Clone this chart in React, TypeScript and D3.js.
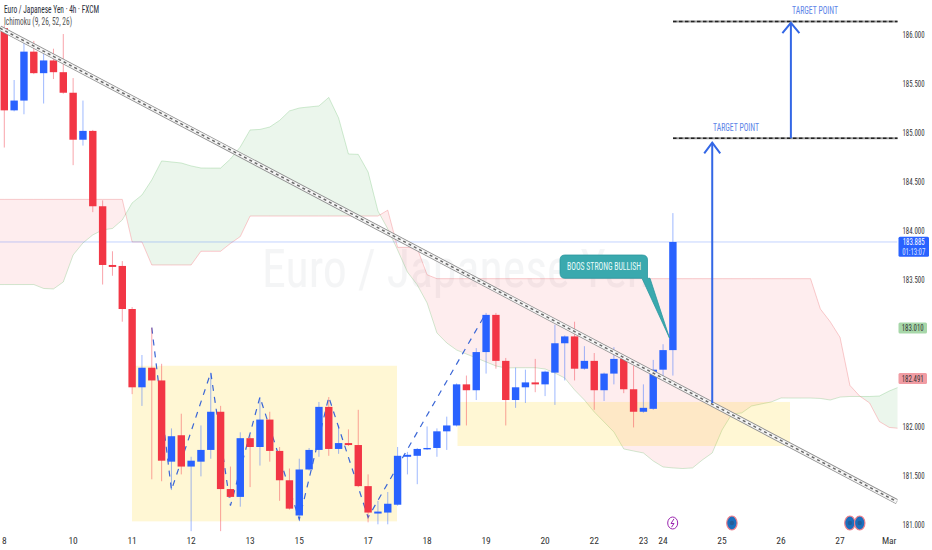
import React from "react";
import * as d3 from "d3";

const opens = [186.07,185.23,185.33,185.83,185.61,185.74,185.62,185.41,184.93,185.02,
184.25,183.65,183.64,183.20,182.40,182.60,182.47,181.64,181.91,181.59,
181.64,181.76,182.15,181.36,181.28,181.88,181.79,182.07,181.75,181.45,
181.09,181.56,181.76,182.20,181.77,181.83,181.81,181.39,181.11,181.12,
181.20,181.69,181.70,181.77,181.78,181.95,182.01,182.43,182.37,182.76,
183.14,182.67,182.27,182.40,182.45,182.43,182.55,182.85,182.92,182.59,
182.67,182.37,182.54,182.69,182.38,182.15,182.18,182.58,182.78];
const highs = [186.10,185.54,185.92,185.94,185.83,185.86,186.01,185.56,185.33,185.03,
184.31,183.79,183.69,183.22,182.73,183.01,182.64,181.98,182.13,181.69,
182.01,182.55,182.21,181.59,181.94,181.91,182.30,182.15,181.79,181.57,
181.67,181.78,182.25,182.30,182.01,181.97,182.17,181.51,181.24,181.33,
181.79,181.74,181.78,182.00,181.98,182.10,182.44,182.52,182.80,183.16,
183.16,182.70,182.60,182.58,182.69,182.57,183.04,182.93,183.07,182.82,
182.75,182.55,182.81,182.73,182.62,182.43,182.68,182.84,184.18];
const lows = [184.85,185.22,185.19,185.60,185.30,185.55,185.40,184.67,184.87,184.19,
183.45,183.54,183.07,182.33,182.21,181.46,181.44,181.35,181.51,180.93,
181.49,181.67,180.93,181.27,181.18,181.38,181.60,181.64,181.24,181.15,
181.04,181.55,181.69,181.70,181.72,181.80,181.38,181.02,181.00,181.00,
181.19,181.51,181.41,181.76,181.69,181.76,182.00,182.01,182.27,182.54,
182.59,182.01,182.19,182.24,182.35,182.31,182.22,182.47,182.47,182.58,
182.17,182.26,182.43,182.34,181.99,182.14,182.17,182.49,182.52];
const closes = [185.23,185.33,185.83,185.61,185.74,185.62,185.41,184.93,185.02,184.25,
183.65,183.63,183.20,182.40,182.60,182.47,181.65,181.90,181.59,181.65,
181.76,182.15,181.36,181.28,181.88,181.79,182.07,181.75,181.45,181.16,
181.56,181.76,182.20,181.77,181.83,181.81,181.39,181.12,181.13,181.21,
181.70,181.71,181.77,181.78,181.95,182.01,182.43,182.37,182.76,183.14,
182.67,182.27,182.40,182.45,182.43,182.56,182.85,182.92,182.59,182.67,
182.37,182.54,182.69,182.38,182.15,182.19,182.58,182.78,183.885];

// Ichimoku spans: first value belongs to bar -1, last to bar 91
const spanA = [183.45,183.45,183.45,183.45,183.45,183.41,183.405,183.476,183.752,183.875,
183.957,184.008,184.023,184.11,184.284,184.365,184.519,184.713,184.703,184.692,
184.662,184.641,184.64,184.64,184.733,184.856,185.03,185.035,185.06,185.127,
185.224,185.254,185.265,185.275,185.362,185.152,184.784,184.78,184.6,184.202,
184.018,183.803,183.578,183.446,183.262,182.955,182.853,182.781,182.74,182.7,
182.659,182.618,182.597,182.6,182.6,182.6,182.587,182.546,182.495,182.373,
182.27,182.148,182.046,181.943,181.77,181.749,181.729,181.647,181.586,181.576,
181.57,181.576,181.658,181.729,181.964,182.127,182.138,182.209,182.23,182.25,
182.291,182.29,182.29,182.29,182.286,182.27,182.3,182.306,182.306,182.306,
182.311,182.362,182.403];
const spanB = [184.32,184.32,184.32,184.32,184.32,184.32,184.32,184.32,184.32,184.32,
184.32,184.32,184.32,184.32,183.885,183.885,183.65,183.65,183.65,183.65,
183.65,183.79,183.79,183.79,183.87,183.94,184.15,184.15,184.15,184.15,
184.15,184.15,184.15,184.15,184.15,184.15,184.15,184.15,184.15,184.15,
184.21,183.83,183.83,183.82,183.55,183.51,183.51,183.51,183.51,183.51,
183.51,183.51,183.51,183.51,183.51,183.51,183.51,183.51,183.51,183.51,
183.51,183.51,183.51,183.51,183.51,183.51,183.51,183.51,183.51,183.51,
183.51,183.51,183.51,183.51,183.51,183.51,183.51,183.51,183.51,183.51,
183.51,183.51,183.51,183.51,183.20,183.07,182.91,182.42,182.31,182.24,
182.05,181.99,181.98];

const zigzagBars = [15, 17, 21, 23, 26, 30, 33, 37, 49];
const zigzagPrices = [183.01, 181.35, 182.55, 181.19, 182.30, 181.05, 182.30, 181.07, 183.16];

const trendBars = [-0.44, 90.8];
const trendPrices = [186.07, 181.23];

const priceTicks = [186, 185.5, 185, 184.5, 184, 183.5, 182, 181.5, 181];
const timeBars = [0, 7, 13, 19, 25, 30, 37, 43, 49, 55, 60, 65, 67, 73, 79, 85, 90];
const timeLabels = ["8","10","11","12","13","15","17","18","19","20","22","23","24","25","26","27","Mar"];

const lastPrice = 183.885;
const targets = [184.945, 186.138];
const earningsBars = [74, 86, 87];
const FONT = "'Liberation Sans Narrow','Roboto Condensed',Roboto,sans-serif";

const W = 932, H = 550, PLOT_R = 897.5;
const x = d3.scaleLinear().domain([0, 68]).range([4.3, 672.9]);
const y = d3.scaleLinear().domain([186, 181]).range([35, 524.3]);

const RED = "#F23645", BLUE = "#2962FF";

export default function App() {
  const barsAll = spanA.map((_, i) => i - 1);
  const lineA = d3.line<number>().x((b) => x(b)).y((b) => y(spanA[b + 1]));
  const lineB = d3.line<number>().x((b) => x(b)).y((b) => y(spanB[b + 1]));
  const between = d3.area<number>().x((b) => x(b)).y0((b) => y(spanA[b + 1])).y1((b) => y(spanB[b + 1]));
  const aboveB = d3.area<number>().x((b) => x(b)).y0(0).y1((b) => y(spanB[b + 1]));
  const belowB = d3.area<number>().x((b) => x(b)).y0(H).y1((b) => y(spanB[b + 1]));
  const zig = d3.line<number>().x((b) => x(b)).y((_, i) => y(zigzagPrices[i]));
  const trend = d3.line<number>().x((b) => x(b)).y((_, i) => y(trendPrices[i]))(trendBars) as string;
  const arrow1X = x(72.0), arrow2X = x(80.0);

  return (
    <svg width={W} height={H} viewBox={`0 0 ${W} ${H}`} style={{ position: "absolute", left: 0, top: 0, background: "#fff" }} fontFamily={FONT}>
      <defs>
        <clipPath id="plot"><rect x={0} y={0} width={PLOT_R} height={H} /></clipPath>
        <clipPath id="upB"><path d={aboveB(barsAll) as string} /></clipPath>
        <clipPath id="dnB"><path d={belowB(barsAll) as string} /></clipPath>
      </defs>

      <text x={262} y={287} fontSize={54} fill="#787b86" opacity={0.07} textLength={388} lengthAdjust="spacingAndGlyphs">Euro / Japanese Yen</text>

      <g clipPath="url(#plot)">
        <path d={between(barsAll) as string} fill="#4caf50" fillOpacity={0.11} clipPath="url(#upB)" />
        <path d={between(barsAll) as string} fill="#f23645" fillOpacity={0.09} clipPath="url(#dnB)" />
        <path d={lineA(barsAll) as string} fill="none" stroke="#4caf50" strokeOpacity={0.25} strokeWidth={1} />
        <path d={lineB(barsAll) as string} fill="none" stroke="#f23645" strokeOpacity={0.25} strokeWidth={1} />

        <line x1={0} x2={PLOT_R} y1={y(lastPrice)} y2={y(lastPrice)} stroke={BLUE} strokeOpacity={0.28} />

        <rect x={132} y={y(182.62)} width={265} height={y(181.03) - y(182.62)} fill="rgb(255,205,0)" fillOpacity={0.17} />
        <rect x={457.5} y={y(182.25)} width={332.5} height={y(181.80) - y(182.25)} fill="rgb(255,205,0)" fillOpacity={0.17} />

        <path d={zig(zigzagBars) as string} fill="none" stroke="#3a66d6" strokeWidth={1.2} strokeDasharray="6 6" />

        {opens.map((o, i) => {
          const c = closes[i];
          const col = c >= o ? BLUE : RED;
          const top = y(Math.max(o, c));
          const h = Math.max(1.4, Math.abs(y(o) - y(c)));
          return (
            <g key={i}>
              <line x1={x(i)} x2={x(i)} y1={y(highs[i])} y2={y(lows[i])} stroke={col} strokeOpacity={0.45} strokeWidth={1} />
              <rect x={x(i) - 3.7} width={7.4} y={top} height={h} fill={col} />
            </g>
          );
        })}

        <path d={trend} fill="none" stroke="#8d8d8d" strokeWidth={5.2} />
        <path d={trend} fill="none" stroke="#f6f6f6" strokeWidth={3.6} />
        <path d={trend} fill="none" stroke="#6a6a6a" strokeWidth={1.5} strokeDasharray="3 3" />
      </g>

      {targets.map((t) => (
        <g key={t}>
          <line x1={673} x2={PLOT_R} y1={y(t)} y2={y(t)} stroke="#9a9a9a" strokeWidth={2.2} />
          <line x1={673} x2={PLOT_R} y1={y(t)} y2={y(t)} stroke="#222" strokeWidth={1.5} strokeDasharray="3.5 2.5" />
        </g>
      ))}

      <g fill="none" stroke="#3367e6" strokeWidth={2}>
        <line x1={arrow1X} x2={arrow1X} y1={y(182.24)} y2={y(184.9)} />
        <polyline points={`${arrow1X - 8},${y(184.79)} ${arrow1X},${y(184.9)} ${arrow1X + 8},${y(184.79)}`} />
        <line x1={arrow2X} x2={arrow2X} y1={y(184.945)} y2={y(186.125)} />
        <polyline points={`${arrow2X - 8.5},${y(186.02)} ${arrow2X},${y(186.125)} ${arrow2X + 8.5},${y(186.02)}`} />
      </g>
      <text x={736} y={131} textAnchor="middle" fontSize={10} fill="#5d84e8" textLength={46} lengthAdjust="spacingAndGlyphs">TARGET POINT</text>
      <text x={815} y={14} textAnchor="middle" fontSize={10} fill="#5d84e8" textLength={46} lengthAdjust="spacingAndGlyphs">TARGET POINT</text>

      <path d="M565,255 H642 Q647.5,255 647.5,260 V278.3 H650 L669.5,338 L642,278.3 H565 Q560,278.3 560,273 V260 Q560,255 565,255 Z"
        fill="#3aa9ae" stroke="#2b97a0" strokeWidth={0.8} />
      <text x={604} y={270} textAnchor="middle" fontSize={10.5} fill="#e8fbfb" textLength={74} lengthAdjust="spacingAndGlyphs">BOOS STRONG BULLISH</text>

      <text x={4} y={13} fontSize={11} fill="#2a2e39" textLength={95} lengthAdjust="spacingAndGlyphs">Euro / Japanese Yen · 4h · FXCM</text>
      <text x={4} y={25} fontSize={11} fill="#555" textLength={68} lengthAdjust="spacingAndGlyphs">Ichimoku (9, 26, 52, 26)</text>

      {priceTicks.map((p) => (
        <text key={p} x={913.5} y={y(p) + 3.2} textAnchor="middle" fontSize={9.5} fill="#333" textLength={22} lengthAdjust="spacingAndGlyphs">{d3.format(".3f")(p)}</text>
      ))}
      <rect x={898.5} y={236.8} width={30.5} height={20} rx={1.5} fill={BLUE} />
      <text x={913.7} y={245} textAnchor="middle" fontSize={9.5} fill="#fff" textLength={22} lengthAdjust="spacingAndGlyphs">183.885</text>
      <text x={913.7} y={255} textAnchor="middle" fontSize={9.5} fill="#dfe7ff" textLength={23} lengthAdjust="spacingAndGlyphs">01:13:07</text>
      <rect x={898.5} y={322.5} width={28.5} height={11} rx={1.5} fill="#a7d7a9" />
      <text x={912.7} y={331.3} textAnchor="middle" fontSize={9.5} fill="#333" textLength={22} lengthAdjust="spacingAndGlyphs">183.010</text>
      <rect x={898.5} y={373} width={28.5} height={11} rx={1.5} fill="#f19ca3" />
      <text x={912.7} y={381.8} textAnchor="middle" fontSize={9.5} fill="#333" textLength={22} lengthAdjust="spacingAndGlyphs">182.491</text>

      {timeBars.map((b, i) => (
        <text key={b} x={x(b)} y={544} textAnchor="middle" fontSize={9.5} fill="#333">{timeLabels[i]}</text>
      ))}

      <ellipse cx={672.7} cy={523} rx={5} ry={6} fill="#fff" stroke="#9c27b0" strokeWidth={1} />
      <path d="M674,518.8 L671,523.5 H674 L671.5,527.2" fill="none" stroke="#9c27b0" strokeWidth={1} />
      {earningsBars.map((b) => (
        <g key={b}>
          <ellipse cx={x(b)} cy={523} rx={5.2} ry={7} fill="#1b6fbd" stroke="#ef7f8b" strokeWidth={1.2} />
          <circle cx={x(b)} cy={523} r={2.2} fill="#245c99" />
        </g>
      ))}
    </svg>
  );
}
